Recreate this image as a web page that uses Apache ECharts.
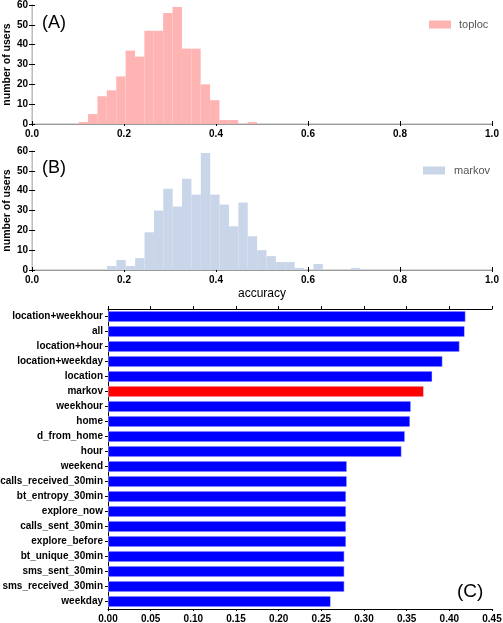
<!DOCTYPE html>
<html>
<head>
<meta charset="utf-8">
<script src="https://cdn.jsdelivr.net/npm/echarts@6/dist/echarts.min.js"></script>
<style>
html,body{margin:0;padding:0;background:#fff;}
#chart{width:503px;height:623px;}
</style>
</head>
<body>
<div id="chart"></div>
<script>
// ---- Data ----
var histXTicks = [0.0, 0.2, 0.4, 0.6, 0.8, 1.0];
var histYTicks = [0, 10, 20, 30, 40, 50, 60];
var binWidth = 0.0204;
var toplocFirstEdge = 0.1015;
var toplocCounts = [1, 5, 14, 17, 24, 37, 34, 47, 47, 56, 59, 38, 38, 20, 12, 2, 2, 0, 1];
var markovFirstEdge = 0.163;
var markovCounts = [2, 5, 2, 6, 19, 30, 41, 32, 46, 38, 59, 38, 33, 22, 34, 17, 10, 7, 4, 4, 1, 0, 3, 0, 0, 0, 1];

var featureNames = ['location+weekhour', 'all', 'location+hour', 'location+weekday', 'location', 'markov',
  'weekhour', 'home', 'd_from_home', 'hour', 'weekend', 'calls_received_30min', 'bt_entropy_30min',
  'explore_now', 'calls_sent_30min', 'explore_before', 'bt_unique_30min', 'sms_sent_30min',
  'sms_received_30min', 'weekday'];
var featureAccuracy = [0.419, 0.418, 0.412, 0.392, 0.380, 0.370, 0.355, 0.354, 0.348, 0.344, 0.280,
  0.280, 0.279, 0.279, 0.279, 0.279, 0.277, 0.277, 0.277, 0.261];
var barXTicks = [0.00, 0.05, 0.10, 0.15, 0.20, 0.25, 0.30, 0.35, 0.40, 0.45];
var highlighted = 'markov';

// ---- Build ----
function histData(first, counts) {
  return counts.map(function (c, i) {
    return [first + i * binWidth, first + (i + 1) * binWidth, c];
  });
}
function histRender(color) {
  return function (params, api) {
    var p0 = api.coord([api.value(0), api.value(2)]);
    var p1 = api.coord([api.value(1), 0]);
    return {
      type: 'rect',
      shape: { x: p0[0], y: p0[1], width: p1[0] - p0[0], height: p1[1] - p0[1] },
      style: { fill: color }
    };
  };
}
var FONT = 'Liberation Sans, Arial, sans-serif';
var tickLbl = { fontFamily: FONT, fontSize: 10, fontWeight: 'bold', color: '#000' };

function histXAxis(grid, bottomName) {
  return [{
    gridIndex: grid, type: 'value', position: 'bottom', min: histXTicks[0], max: histXTicks[histXTicks.length - 1],
    interval: histXTicks[1] - histXTicks[0],
    axisLine: { show: true, lineStyle: { color: '#d9d9d9', width: 2 } },
    axisTick: { show: true, length: 2, lineStyle: { color: '#000' } },
    axisLabel: Object.assign({ margin: 5, formatter: function (v) { return v.toFixed(1); } }, tickLbl),
    splitLine: { show: false },
    name: bottomName || '', nameLocation: 'middle', nameGap: 18, nameMoveOverlap: false,
    nameTextStyle: { fontFamily: FONT, fontSize: 12, color: '#000' }
  }, {
    gridIndex: grid, type: 'value', position: 'top', min: histXTicks[0], max: histXTicks[histXTicks.length - 1],
    interval: histXTicks[1] - histXTicks[0],
    axisLine: { show: true, lineStyle: { color: '#999', width: 1 } },
    axisTick: { show: true, length: 3, lineStyle: { color: '#000' } },
    axisLabel: { show: false }, splitLine: { show: false }
  }];
}
function histYAxis(grid) {
  return [{
    gridIndex: grid, type: 'value', position: 'left', min: histYTicks[0], max: histYTicks[histYTicks.length - 1],
    interval: histYTicks[1] - histYTicks[0],
    axisLine: { show: true, lineStyle: { color: '#888', width: 1 } },
    axisTick: { show: true, length: 3, lineStyle: { color: '#000' } },
    axisLabel: Object.assign({ margin: 4 }, tickLbl),
    splitLine: { show: false },
    name: 'number of users', nameLocation: 'middle', nameGap: 19, nameRotate: 90, nameMoveOverlap: false,
    nameTextStyle: { fontFamily: FONT, fontSize: 10.5, fontWeight: 'bold', color: '#000' }
  }, {
    gridIndex: grid, type: 'value', position: 'right', min: histYTicks[0], max: histYTicks[histYTicks.length - 1],
    interval: histYTicks[1] - histYTicks[0],
    axisLine: { show: true, lineStyle: { color: '#cfcfcf', width: 1.5 } },
    axisTick: { show: true, length: 3, lineStyle: { color: '#000' } },
    axisLabel: { show: false }, splitLine: { show: false }
  }];
}

var option = {
  animation: false,
  backgroundColor: '#fff',
  grid: [
    { left: 32, top: 5, width: 460, height: 119, containLabel: false, outerBoundsMode: 'none' },
    { left: 32, top: 151, width: 460, height: 119, containLabel: false, outerBoundsMode: 'none' },
    { left: 108, top: 309, width: 384, height: 300, containLabel: false, outerBoundsMode: 'none' }
  ],
  legend: [
    { data: ['toploc'], left: 424, top: 14, itemWidth: 22, itemHeight: 8, icon: 'rect',
      textStyle: { fontFamily: FONT, fontSize: 11, color: '#555', padding: [0, 0, 0, 3] } },
    { data: ['markov'], left: 418, top: 160, itemWidth: 22, itemHeight: 8, icon: 'rect',
      textStyle: { fontFamily: FONT, fontSize: 11, color: '#555', padding: [0, 0, 0, 4] } }
  ],
  xAxis: [].concat(histXAxis(0), histXAxis(1, 'accuracy'), [
    {
      gridIndex: 2, type: 'value', position: 'bottom', min: barXTicks[0], max: barXTicks[barXTicks.length - 1],
      interval: 0.05,
      axisLine: { show: true, lineStyle: { color: '#000', width: 1 } },
      axisTick: { show: true, length: 2, lineStyle: { color: '#000' } },
      axisLabel: Object.assign({ margin: 5, formatter: function (v) { return v.toFixed(2); } }, tickLbl),
      splitLine: { show: false }
    }, {
      gridIndex: 2, type: 'value', position: 'top', min: barXTicks[0], max: barXTicks[barXTicks.length - 1],
      interval: 0.05,
      axisLine: { show: true, lineStyle: { color: '#000', width: 1 } },
      axisTick: { show: true, length: 3, lineStyle: { color: '#000' } },
      axisLabel: { show: false }, splitLine: { show: false }
    }
  ]),
  yAxis: [].concat(histYAxis(0), histYAxis(1), [
    {
      gridIndex: 2, type: 'category', position: 'left', data: featureNames, inverse: true,
      axisLine: { show: true, lineStyle: { color: '#000', width: 1 } },
      axisTick: { show: true, length: 3, alignWithLabel: true, lineStyle: { color: '#000' } },
      axisLabel: Object.assign({ margin: 5, interval: 0 }, tickLbl),
      splitLine: { show: false }
    }, {
      gridIndex: 2, type: 'category', position: 'right', data: featureNames, inverse: true,
      axisLine: { show: true, lineStyle: { color: '#000', width: 1 } },
      axisTick: { show: true, length: 3, alignWithLabel: true, interval: 0, lineStyle: { color: '#000' } },
      axisLabel: { show: false }, splitLine: { show: false }
    }
  ]),
  series: [
    { name: 'toploc', type: 'custom', xAxisIndex: 0, yAxisIndex: 0,
      itemStyle: { color: '#ffb4b4' }, renderItem: histRender('#ffb4b4'),
      encode: { x: [0, 1], y: 2 }, data: histData(toplocFirstEdge, toplocCounts) },
    { name: 'markov', type: 'custom', xAxisIndex: 2, yAxisIndex: 2,
      itemStyle: { color: '#c9d5e8' }, renderItem: histRender('#c9d5e8'),
      encode: { x: [0, 1], y: 2 }, data: histData(markovFirstEdge, markovCounts) },
    { name: 'feature accuracy', type: 'bar', xAxisIndex: 4, yAxisIndex: 4,
      barWidth: 11,
      data: featureAccuracy.map(function (v, i) {
        return { value: v, itemStyle: { color: featureNames[i] === highlighted ? '#ff0000' : '#0000ff' } };
      }),
      itemStyle: { borderColor: '#e8e8ff', borderWidth: 0.5 }
    }
  ],
  graphic: [
    { type: 'text', left: 42, top: 14, style: { text: '(A)', font: '18px ' + FONT, fill: '#000' } },
    { type: 'text', left: 42, top: 159, style: { text: '(B)', font: '18px ' + FONT, fill: '#000' } },
    { type: 'text', left: 457, top: 582, style: { text: '(C)', font: '19px ' + FONT, fill: '#000' } }
  ]
};

var chart = echarts.init(document.getElementById('chart'), null, { renderer: 'canvas' });
chart.setOption(option);
</script>
</body>
</html>
